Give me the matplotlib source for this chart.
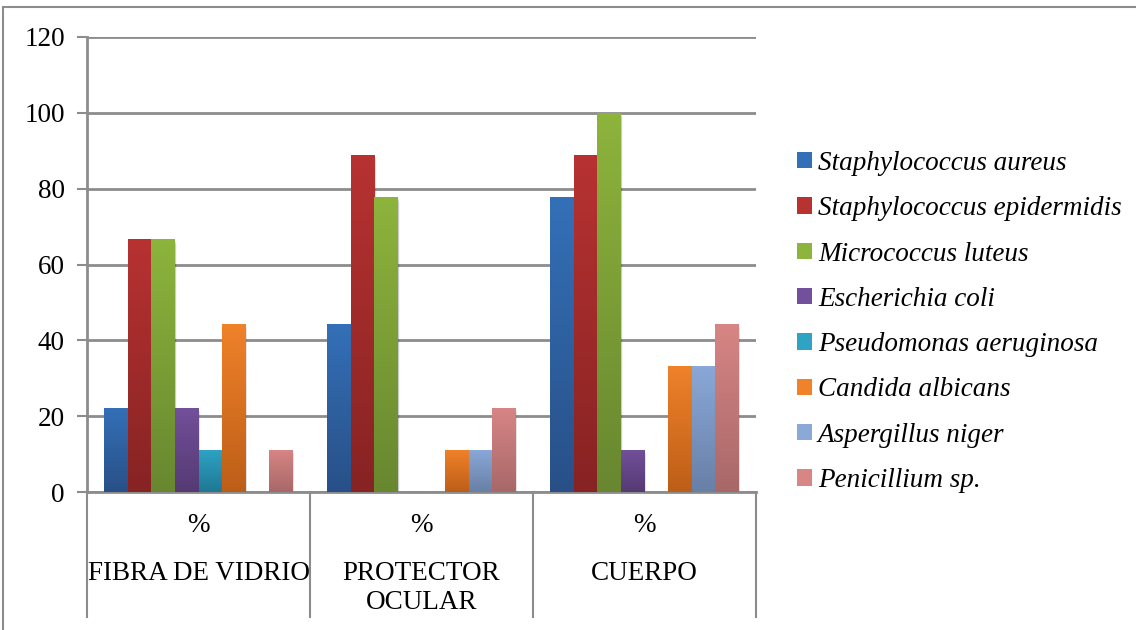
import numpy as np
import matplotlib
matplotlib.use('Agg')
from matplotlib import pyplot as plt
from matplotlib.colors import LinearSegmentedColormap
import matplotlib.patches as mpatches

plt.rcParams['font.family'] = ['Liberation Serif', 'DejaVu Serif']

categories = ['FIBRA DE VIDRIO', 'PROTECTOR\nOCULAR', 'CUERPO']
inner_labels = ['%', '%', '%']
species = ['Staphylococcus aureus', 'Staphylococcus epidermidis', 'Micrococcus luteus',
           'Escherichia coli', 'Pseudomonas aeruginosa', 'Candida albicans',
           'Aspergillus niger', 'Penicillium sp.']
# percentage per surface (rows follow species order)
values = [
    [22.2, 44.4, 77.8],
    [66.7, 88.9, 88.9],
    [66.7, 77.8, 100.0],
    [22.2, 0.0, 11.1],
    [11.1, 0.0, 0.0],
    [44.4, 11.1, 33.3],
    [0.0, 11.1, 33.3],
    [11.1, 22.2, 44.4],
]
yticks = [0, 20, 40, 60, 80, 100, 120]

# gradient ends (top, bottom) for each series
grad = [('#3470B8', '#285087'), ('#B83232', '#872323'), ('#8DB43C', '#688730'),
        ('#73509B', '#553A73'), ('#2EA3C4', '#1F7894'), ('#F0822A', '#BD5E18'),
        ('#8AA8D8', '#6880A6'), ('#D88585', '#A86868')]

FS = 19.5
W, H = 1136, 630
fig = plt.figure(figsize=(W / 100, H / 100), dpi=100)
ax = fig.add_axes([87 / W, (H - 492) / H, (756 - 87) / W, (492 - 37) / H])

# chart frame
fig.add_artist(mpatches.Rectangle((3 / W, -0.1), 1.2, 1 - 7 / H + 0.1, transform=fig.transFigure,
                                  fill=False, edgecolor='#8c8c8c', linewidth=1.5))

n = len(species)
bw = 0.1054
x = np.arange(len(categories))
start = 0.5 - n * bw / 2
ramp = np.linspace(0, 1, 256).reshape(-1, 1)

for i, (name, vals) in enumerate(zip(species, values)):
    xs = x + start + i * bw
    top, bot = grad[i]
    cmap = LinearSegmentedColormap.from_list(name, [bot, top])
    bars = ax.bar(xs, vals, width=bw, align='edge', color=top, linewidth=0, zorder=3)
    for b, v in zip(bars, vals):
        if v <= 0:
            continue
        x0 = b.get_x()
        # soft shadow to the lower right
        for k, a in enumerate([0.10, 0.07, 0.04]):
            ax.add_patch(mpatches.Rectangle((x0 + 0.004 + k * 0.002, -0.6 - k * 0.3), bw, v,
                                            facecolor='black', alpha=a, linewidth=0, zorder=2))
        im = ax.imshow(ramp, extent=[x0, x0 + bw, 0, v], origin='lower', aspect='auto',
                       cmap=cmap, zorder=4, interpolation='bilinear')
        im.set_clip_path(b)

ax.set_xlim(0, 3)
ax.set_ylim(0, 120)
ax.set_yticks(yticks)
ax.set_yticklabels([str(t) for t in yticks], fontsize=FS)
ax.yaxis.grid(True, color='#8c8c8c', linewidth=2)
ax.set_axisbelow(True)
ax.tick_params(axis='y', length=7, width=1.5, color='#8c8c8c', pad=9)

for s in ['top', 'right']:
    ax.spines[s].set_visible(False)
for s in ['left', 'bottom']:
    ax.spines[s].set_color('#8c8c8c')
    ax.spines[s].set_linewidth(2)

# two-level category axis
ax.set_xticks(x + 0.5)
ax.set_xticklabels(inner_labels, fontsize=FS)
ax.tick_params(axis='x', length=0, pad=15)
xtr = ax.get_xaxis_transform()
for xv in range(len(categories) + 1):
    ax.plot([xv, xv], [0, -0.275], transform=xtr, color='#8c8c8c', linewidth=1.5, clip_on=False)
for xv, lab in zip(x + 0.5, categories):
    ax.text(xv, -0.152, lab, transform=xtr, ha='center', va='top', fontsize=FS, linespacing=1.2)

handles = [mpatches.Patch(facecolor=g[0], edgecolor='none', label=s) for g, s in zip(grad, species)]
fig.legend(handles=handles, loc='center left', bbox_to_anchor=(797 / W, 1 - 322 / H),
           frameon=False, prop={'family': 'Liberation Serif', 'style': 'italic', 'size': FS},
           handlelength=0.55, handleheight=0.55, handletextpad=0.22, labelspacing=0.75,
           borderpad=0, borderaxespad=0)

fig.savefig('out.png', dpi=100)
